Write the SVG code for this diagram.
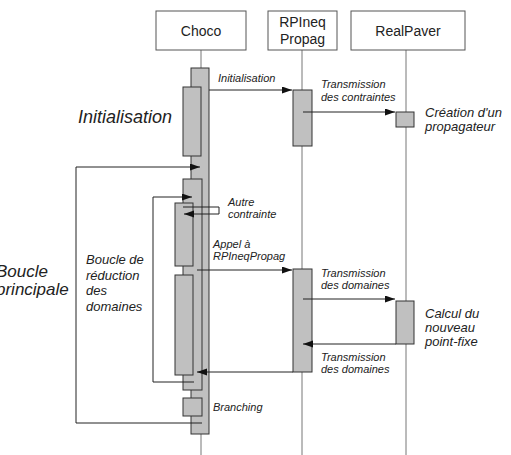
<svg xmlns="http://www.w3.org/2000/svg" width="511" height="455" viewBox="0 0 511 455">
<style>
.hdr{fill:#fff;stroke:#555;stroke-width:1}
.life{stroke:#777;stroke-width:1;fill:none}
.bar{fill:#c0c0c0;stroke:#333;stroke-width:1}
.ln{stroke:#222;stroke-width:1;fill:none}
.arr{stroke:#222;stroke-width:1;fill:none;marker-end:url(#ah)}
text{font-family:"Liberation Sans",Arial,sans-serif;fill:#222}
.h{font-size:14px;text-anchor:middle}
.s{font-size:11px;font-style:italic}
.m{font-size:13px;font-style:italic}
.l{font-size:18px;font-style:italic}
</style>
<defs>
<marker id="ah" markerUnits="userSpaceOnUse" markerWidth="11" markerHeight="8" refX="10" refY="3.5" orient="auto">
<path d="M0,0 L10,3.5 L0,7 z" fill="#111"/>
</marker>
</defs>
<rect width="511" height="455" fill="#fff"/>
<g id="choco">
<line class="life" x1="201" y1="50" x2="201" y2="455"/>
<rect class="hdr" x="156" y="11" width="90" height="39"/>
<text class="h" x="201" y="36">Choco</text>
<rect class="bar" x="191" y="68" width="18" height="366"/>
<rect class="bar" x="183" y="87" width="18" height="69"/>
<rect class="bar" x="183" y="179" width="19" height="211"/>
<rect class="bar" x="175" y="203" width="18" height="63"/>
<rect class="bar" x="175" y="275" width="18" height="100"/>
<rect class="bar" x="183" y="398" width="19" height="18"/>
</g>
<g id="rpineq">
<line class="life" x1="302" y1="50" x2="302" y2="455"/>
<rect class="hdr" x="268" y="11" width="69" height="39"/>
<text class="h" x="302.5" y="27">RPIneq</text>
<text class="h" x="302.5" y="44">Propag</text>
<rect class="bar" x="293" y="90" width="19" height="56"/>
<rect class="bar" x="293" y="269" width="19" height="103"/>
</g>
<g id="realpaver">
<line class="life" x1="406" y1="50" x2="406" y2="455"/>
<rect class="hdr" x="351" y="11" width="114" height="39"/>
<text class="h" x="408" y="36">RealPaver</text>
<rect class="bar" x="396" y="112" width="18" height="15"/>
<rect class="bar" x="396" y="301" width="18" height="43"/>
</g>
<g id="connectors">
<line class="arr" x1="209" y1="90" x2="292" y2="90"/>
<line class="arr" x1="303" y1="112" x2="395" y2="112"/>
<polyline class="arr" points="202,423 76,423 76,167 200,167"/>
<polyline class="arr" points="194,382 153,382 153,197 192,197"/>
<polyline class="arr" points="183,207 219,207 219,214 184,214"/>
<line class="arr" x1="197" y1="270" x2="292" y2="270"/>
<line class="arr" x1="303" y1="299" x2="395" y2="299"/>
<line class="arr" x1="396" y1="344" x2="303" y2="344"/>
<line class="arr" x1="293" y1="372" x2="197" y2="372"/>
</g>
<g id="labels">
<text class="s" x="218" y="82">Initialisation</text>
<text class="s" x="321" y="88">Transmission</text>
<text class="s" x="321" y="101">des contraintes</text>
<text class="m" x="425" y="117">Création d'un</text>
<text class="m" x="425" y="131">propagateur</text>
<text class="l" x="78" y="123">Initialisation</text>
<text class="s" x="228" y="206">Autre</text>
<text class="s" x="228" y="218">contrainte</text>
<text class="s" x="213" y="248">Appel à</text>
<text class="s" x="213" y="260">RPIneqPropag</text>
<text class="m" x="86" y="264">Boucle de</text>
<text class="m" x="86" y="279.5">réduction</text>
<text class="m" x="86" y="295">des</text>
<text class="m" x="86" y="310.5">domaines</text>
<text class="l" x="-4" y="277" style="font-size:17px">Boucle</text>
<text class="l" x="-4" y="295" style="font-size:17px">principale</text>
<text class="s" x="321" y="277">Transmission</text>
<text class="s" x="321" y="289">des domaines</text>
<text class="m" x="425" y="318">Calcul du</text>
<text class="m" x="425" y="332">nouveau</text>
<text class="m" x="425" y="346">point-fixe</text>
<text class="s" x="321" y="361">Transmission</text>
<text class="s" x="321" y="373">des domaines</text>
<text class="s" x="213" y="411">Branching</text>
</g>
</svg>
